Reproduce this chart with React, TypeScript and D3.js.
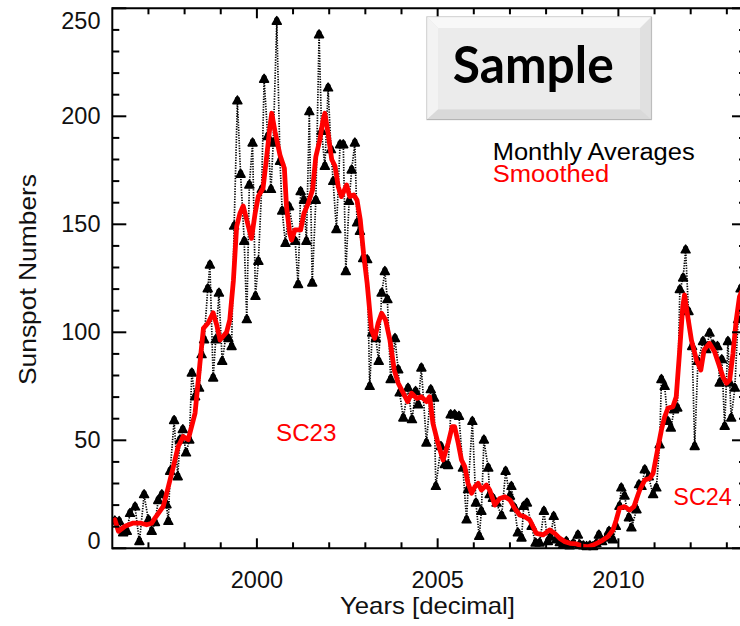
import React from "react";
import * as d3 from "d3";

// ---- Data ----
const monthlyYears = [
  1996.07, 1996.19, 1996.30, 1996.40, 1996.49, 1996.63, 1996.75, 1996.88, 1997.00, 1997.09,
  1997.18, 1997.27, 1997.37, 1997.50, 1997.55, 1997.60, 1997.71, 1997.81, 1997.87, 1997.95,
  1998.04, 1998.13, 1998.20, 1998.29, 1998.40, 1998.47, 1998.54, 1998.64, 1998.70, 1998.79,
  1998.86, 1998.95, 1999.04, 1999.14, 1999.21, 1999.30, 1999.37, 1999.46, 1999.55, 1999.65,
  1999.72, 1999.79, 1999.88, 1999.96, 2000.04, 2000.13, 2000.20, 2000.30, 2000.39, 2000.45,
  2000.55, 2000.64, 2000.70, 2000.79, 2000.89, 2001.06, 2001.14, 2001.21, 2001.30, 2001.37,
  2001.45, 2001.53, 2001.63, 2001.72, 2001.79, 2001.88, 2001.97, 2002.05, 2002.11, 2002.20,
  2002.30, 2002.39, 2002.46, 2002.55, 2002.62, 2002.71, 2002.77, 2002.85, 2002.94, 2003.05,
  2003.12, 2003.19, 2003.29, 2003.37, 2003.45, 2003.54, 2003.61, 2003.70, 2003.82, 2003.91,
  2003.95, 2004.05, 2004.18, 2004.29, 2004.39, 2004.46, 2004.55, 2004.69, 2004.81, 2004.90,
  2004.95, 2005.09, 2005.20, 2005.29, 2005.36, 2005.47, 2005.59, 2005.70, 2005.80, 2005.84,
  2005.96, 2006.06, 2006.15, 2006.21, 2006.28, 2006.40, 2006.44, 2006.53, 2006.63, 2006.77,
  2006.88, 2007.00, 2007.04, 2007.13, 2007.22, 2007.32, 2007.38, 2007.47, 2007.60, 2007.71,
  2007.82, 2007.94, 2008.05, 2008.12, 2008.21, 2008.29, 2008.38, 2008.47, 2008.56, 2008.65,
  2008.75, 2008.88, 2008.93, 2009.03, 2009.12, 2009.21, 2009.30, 2009.39, 2009.46, 2009.55,
  2009.67, 2009.74, 2009.85, 2009.93, 2010.03, 2010.08, 2010.17, 2010.29, 2010.36, 2010.50,
  2010.57, 2010.64, 2010.73, 2010.84, 2010.96, 2011.05, 2011.14, 2011.19, 2011.28, 2011.37,
  2011.45, 2011.54, 2011.63, 2011.70, 2011.79, 2011.86, 2011.94, 2012.04, 2012.11, 2012.20,
  2012.34, 2012.43, 2012.52, 2012.62, 2012.74, 2012.80, 2012.86, 2012.94, 2013.03, 2013.08,
  2013.12, 2013.22, 2013.31, 2013.38, 2013.49,
];
const monthlyValues = [
  12.5, 12.3, 7, 7.7, 16, 19, 3, 24.7, 13, 7.7,
  11.8, 22, 24.7, 20, 12.3, 35.5, 59, 33, 50, 54.8,
  44, 50, 81, 70, 74, 89.5, 96.4, 120, 131, 78.7,
  96.4, 118, 86.4, 98, 97, 93.3, 149, 207, 173, 142,
  105.7, 168, 187.5, 116.5, 132.7, 166, 217, 190.5, 166, 187.5,
  243.8, 179, 156, 141, 158, 142, 122, 165, 161, 142,
  202, 122.7, 161, 237.6, 192.9, 176.7, 213, 184.4, 169.7, 147.4,
  186.7, 186.7, 128, 160.5, 175, 187.5, 150.5, 146.6, 134, 133.5,
  74.8, 99.5, 97, 86.4, 118, 128, 115, 78, 97, 82.5,
  71.8, 60.2, 74, 59.4, 72.5, 66.3, 83.3, 48.6, 73.3, 69.4,
  28.5, 47, 38.6, 38.2, 61.7, 61.7, 61, 37, 13, 27,
  58.6, 20.8, 5.4, 17, 50, 37, 24.7, 23, 20.8, 15,
  35.5, 24, 28.5, 18.5, 7, 4.6, 19.3, 20.8, 10, 2.3,
  2.3, 17, 3, 5, 14.6, 3.8, 2.5, 1.5, 3, 1,
  2, 6, 1.5, 1, 0.7, 1, 0.7, 2, 6, 3,
  4.6, 7.7, 3.8, 10, 19.3, 27.8, 24, 14, 9.3, 17.7,
  29.3, 28.5, 36.2, 33, 24.7, 27.8, 47.8, 78, 74.8, 58.6,
  55.5, 64, 64.8, 119.6, 125, 138, 109.5, 93.3, 47, 86.4,
  95.6, 91.8, 99.5, 94, 93.3, 76.4, 87.2, 56.3, 95.6, 76.4,
  60.2, 74, 105.7, 120, 110,
];

const smoothedYears = [
  1996.07, 1996.17, 1996.35, 1996.58, 1996.77, 1996.95, 1997.09, 1997.18, 1997.41, 1997.55,
  1997.69, 1997.82, 1997.96, 1998.10, 1998.29, 1998.42, 1998.52, 1998.65, 1998.79, 1998.89,
  1998.98, 1999.16, 1999.25, 1999.35, 1999.44, 1999.53, 1999.62, 1999.72, 1999.85, 1999.95,
  2000.04, 2000.17, 2000.27, 2000.36, 2000.41, 2000.50, 2000.64, 2000.76, 2000.82, 2000.91,
  2000.96, 2001.05, 2001.21, 2001.30, 2001.42, 2001.54, 2001.63, 2001.74, 2001.83, 2001.88,
  2001.97, 2002.07, 2002.16, 2002.25, 2002.34, 2002.48, 2002.57, 2002.68, 2002.77, 2002.86,
  2002.95, 2003.05, 2003.17, 2003.26, 2003.35, 2003.45, 2003.56, 2003.68, 2003.80, 2003.91,
  2004.05, 2004.17, 2004.28, 2004.42, 2004.55, 2004.69, 2004.78, 2004.87, 2005.01, 2005.15,
  2005.29, 2005.40, 2005.47, 2005.57, 2005.66, 2005.75, 2005.84, 2005.94, 2006.03, 2006.12,
  2006.21, 2006.35, 2006.44, 2006.58, 2006.72, 2006.86, 2007.00, 2007.13, 2007.27, 2007.41,
  2007.55, 2007.64, 2007.73, 2007.92, 2008.10, 2008.24, 2008.38, 2008.52, 2008.66, 2008.84,
  2009.02, 2009.16, 2009.30, 2009.44, 2009.57, 2009.71, 2009.85, 2009.94, 2010.03, 2010.17,
  2010.31, 2010.43, 2010.54, 2010.59, 2010.73, 2010.87, 2010.96, 2011.10, 2011.19, 2011.28,
  2011.37, 2011.51, 2011.60, 2011.69, 2011.78, 2011.83, 2011.92, 2012.02, 2012.16, 2012.28,
  2012.37, 2012.52, 2012.66, 2012.80, 2012.89, 2012.99, 2013.08, 2013.17, 2013.26, 2013.35,
  2013.49,
];
const smoothedValues = [
  13.2, 7.9, 10.2, 11.7, 11.7, 10.9, 11.6, 14, 19.4, 28.5,
  37.8, 47, 51.7, 50.3, 62.6, 85, 101.8, 104.3, 109, 103.4,
  96.4, 100, 105.7, 124, 149, 155, 158.5, 152, 143.5, 155,
  163, 166.7, 181.3, 195, 201.4, 193, 182, 176, 158, 145.8,
  142.7, 147.4, 147.4, 155, 159.7, 166, 181.3, 189, 198.3, 201.4,
  192, 180, 177, 167.4, 162.8, 168.2, 162.8, 163.6, 161.2, 152,
  136.6, 122.7, 101, 97.2, 104, 108.8, 105.7, 96.4, 82.5, 76.4,
  71.8, 67.9, 71.8, 69.4, 70.2, 67.9, 70.2, 57.9, 48.6, 40.9,
  48.6, 56.3, 56.3, 48.6, 40.9, 37.8, 30.1, 25.5, 28.5, 30.1,
  27, 29.3, 27, 20, 23.1, 23.9, 22.4, 18.5, 15.4, 14.6,
  13.1, 10, 6.9, 6.2, 8.5, 6.9, 4.6, 3.1, 2.3, 2,
  1, 0.7, 1.5, 2.6, 3.8, 5.4, 8.5, 13.1, 18.5, 19.3,
  17.7, 19.3, 24.7, 27, 31.6, 32.4, 34.7, 47, 54.8, 60.9,
  64.8, 65.6, 70.2, 90.3, 111.9, 117.3, 107.2, 96.4, 87.2, 82.5,
  91.8, 94.9, 91, 84.1, 79.4, 76.4, 78, 90.3, 105.7, 116.5,
  122,
];

const yMajorTicks = [0, 50, 100, 150, 200, 250];
const yMinorTicks = [10, 20, 30, 40, 60, 70, 80, 90, 110, 120, 130, 140, 160, 170, 180, 190, 210, 220, 230, 240];
const xMajorTicks = [2000, 2005, 2010];
const xMinorTicks = [1997, 1998, 1999, 2001, 2002, 2003, 2004, 2006, 2007, 2008, 2009, 2011, 2012, 2013];

const W = 740;
const H = 626;
const FONT = "'Liberation Sans', Arial, Helvetica, sans-serif";

export default function App() {
  const left = 112.3, right = 746, top = 8.3, bottom = 548.3;
  const x = d3.scaleLinear().domain([1996, 2013.53]).range([left, right]);
  const y = d3.scaleLinear().domain([0, 250]).range([bottom, top]);

  const monthly = monthlyYears.map((yr, i) => ({ yr, v: monthlyValues[i] }));
  const smooth = smoothedYears.map((yr, i) => ({ yr, v: smoothedValues[i] }));

  const line = d3.line<{ yr: number; v: number }>().x((d) => x(d.yr)).y((d) => y(d.v));
  const tri = d3.symbol().type(d3.symbolTriangle).size(34)();

  const majLenY = 14, minLenY = 7, majLenX = 10, minLenX = 6;

  return (
    <svg width={W} height={H} style={{ position: "absolute", left: 0, top: 0, background: "#fff" }}>
      <defs>
        <clipPath id="plotclip">
          <rect x={left} y={0} width={right - left} height={bottom + 6} />
        </clipPath>
      </defs>
      <rect x={0} y={0} width={W} height={H} fill="#fff" />

      {/* data */}
      <g clipPath="url(#plotclip)">
        <path d={line(monthly) || ""} fill="none" stroke="#000" strokeWidth={1.7} strokeDasharray="1.3 1.3" />
        {monthly.map((d, i) => (
          <g key={i} transform={`translate(${x(d.yr)},${y(d.v)})`}>
            <path d={tri || ""} fill="#000" stroke="#000" strokeWidth={1.6} strokeLinejoin="round" />
            <circle cx={0} cy={-2.2} r={2.6} fill="#000" />
          </g>
        ))}
        <path d={line(smooth) || ""} fill="none" stroke="#ff0000" strokeWidth={4.8} strokeLinejoin="round" strokeLinecap="round" />
      </g>

      {/* frame */}
      <g stroke="#000" strokeWidth={2} fill="none">
        <line x1={left} y1={top} x2={right} y2={top} />
        <line x1={left} y1={bottom} x2={right} y2={bottom} />
        <line x1={left} y1={top - 1} x2={left} y2={bottom + 1} />
        <line x1={right} y1={top - 1} x2={right} y2={bottom + 1} />
        {yMajorTicks.map((t) => (
          <g key={"ym" + t}>
            <line x1={left} x2={left + majLenY} y1={y(t)} y2={y(t)} />
            <line x1={right} x2={right - majLenY} y1={y(t)} y2={y(t)} />
          </g>
        ))}
        {yMinorTicks.map((t) => (
          <g key={"yn" + t}>
            <line x1={left} x2={left + minLenY} y1={y(t)} y2={y(t)} />
            <line x1={right} x2={right - minLenY} y1={y(t)} y2={y(t)} />
          </g>
        ))}
        {xMajorTicks.map((t) => (
          <g key={"xm" + t}>
            <line x1={x(t)} x2={x(t)} y1={bottom} y2={bottom - majLenX} />
            <line x1={x(t)} x2={x(t)} y1={top} y2={top + majLenX} />
          </g>
        ))}
        {xMinorTicks.map((t) => (
          <g key={"xn" + t}>
            <line x1={x(t)} x2={x(t)} y1={bottom} y2={bottom - minLenX} />
            <line x1={x(t)} x2={x(t)} y1={top} y2={top + minLenX} />
          </g>
        ))}
      </g>

      {/* tick labels */}
      <g fontFamily={FONT} fontSize={23.5} fill="#111">
        {yMajorTicks.map((t) => (
          <text key={"yl" + t} x={100.5} y={Math.min(Math.max(y(t), 21), 541)} textAnchor="end" dominantBaseline="central">
            {t}
          </text>
        ))}
        {xMajorTicks.map((t) => (
          <text key={"xl" + t} x={x(t)} y={588} textAnchor="middle">
            {t}
          </text>
        ))}
      </g>

      {/* axis titles */}
      <text x={340} y={614} fontFamily={FONT} fontSize={24} fill="#111" textLength={175} lengthAdjust="spacingAndGlyphs">
        Years [decimal]
      </text>
      <text
        transform="translate(36,385) rotate(-90)"
        fontFamily={FONT}
        fontSize={24}
        fill="#111"
        textLength={211}
        lengthAdjust="spacingAndGlyphs"
      >
        Sunspot Numbers
      </text>

      {/* legend */}
      <text x={492.7} y={160} fontFamily={FONT} fontSize={23.5} fill="#000" textLength={202} lengthAdjust="spacingAndGlyphs">
        Monthly Averages
      </text>
      <text x={492.7} y={181.7} fontFamily={FONT} fontSize={23.5} fill="#ff0000" textLength={116.5} lengthAdjust="spacingAndGlyphs">
        Smoothed
      </text>

      {/* cycle labels */}
      <text x={276} y={440.7} fontFamily={FONT} fontSize={24} fill="#ff0000" textLength={60.5} lengthAdjust="spacingAndGlyphs">
        SC23
      </text>
      <text x={673.3} y={504.7} fontFamily={FONT} fontSize={24} fill="#ff0000" textLength={58.5} lengthAdjust="spacingAndGlyphs">
        SC24
      </text>

      {/* Sample button */}
      <g>
        <rect x={426.8} y={16.8} width={224.7} height={102.9} fill="#e4e4e4" stroke="#c8c8c8" strokeWidth={1} />
        <polygon points="427.3,17.3 651,17.3 640,28.3 438.3,28.3" fill="#f8f8f8" />
        <polygon points="427.3,17.3 438.3,28.3 438.3,109.3 427.3,119.3" fill="#f3f3f3" />
        <polygon points="651,17.3 651,119.3 640,109.3 640,28.3" fill="#e0e0e0" />
        <polygon points="427.3,119.3 651,119.3 640,109.3 438.3,109.3" fill="#d9d9d9" />
        <line x1={427} y1={119.5} x2={651.5} y2={119.5} stroke="#b5b5b5" strokeWidth={1.2} />
        <line x1={651.5} y1={17} x2={651.5} y2={119.5} stroke="#bdbdbd" strokeWidth={1.2} />
        <rect x={438.3} y={28.3} width={201.7} height={81} fill="#ebebeb" />
        <text
          x={452.7}
          y={83}
          fontFamily="Lato, 'Noto Sans', sans-serif"
          fontWeight="bold"
          fontSize={52}
          textLength={161}
          lengthAdjust="spacingAndGlyphs"
          fill="#000"
        >
          Sample
        </text>
      </g>
    </svg>
  );
}
